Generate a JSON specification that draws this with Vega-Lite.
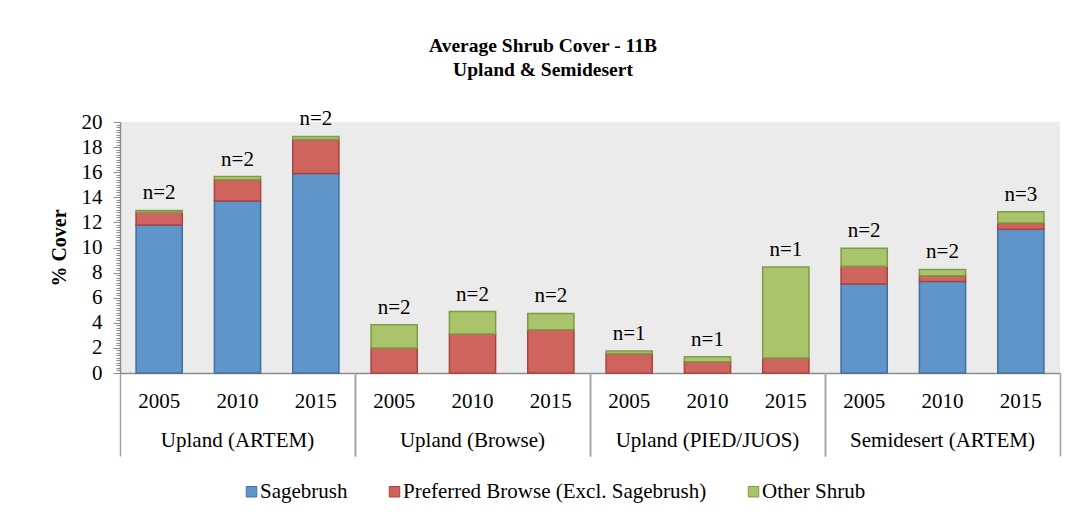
{
  "$schema": "https://vega.github.io/schema/vega-lite/v6.json",
  "autosize": {"type": "none"},
  "width": 940,
  "height": 251,
  "padding": {"left": 120, "top": 122, "right": 26, "bottom": 158},
  "background": "white",
  "title": {
    "text": ["Average Shrub Cover - 11B", "Upland & Semidesert"],
    "font": "Liberation Serif",
    "fontSize": 19.5,
    "fontWeight": "bold",
    "color": "black",
    "anchor": "middle",
    "frame": "group",
    "dx": -47,
    "offset": 28,
    "lineHeight": 24
  },
  "config": {
    "view": {"fill": "#ebebeb", "stroke": null},
    "axis": {
      "grid": false,
      "labelFont": "Liberation Serif",
      "titleFont": "Liberation Serif",
      "labelColor": "black",
      "titleColor": "black",
      "domainColor": "#8c8c8c",
      "tickColor": "#8c8c8c",
      "labelLimit": 400
    },
    "legend": {
      "labelFont": "Liberation Serif",
      "labelFontSize": 21,
      "labelColor": "black",
      "labelLimit": 500,
      "symbolType": "square",
      "symbolSize": 110,
      "symbolStrokeWidth": 1,
      "labelOffset": -2,
      "columnPadding": 36
    }
  },
  "datasets": {
    "cover": [
      {"bar": "Upland (ARTEM)|2005", "group": "Upland (ARTEM)", "shrub": "Sagebrush", "cover": 11.8, "n": 2},
      {"bar": "Upland (ARTEM)|2005", "group": "Upland (ARTEM)", "shrub": "Preferred Browse (Excl. Sagebrush)", "cover": 1.0, "n": 2},
      {"bar": "Upland (ARTEM)|2005", "group": "Upland (ARTEM)", "shrub": "Other Shrub", "cover": 0.15, "n": 2},
      {"bar": "Upland (ARTEM)|2010", "group": "Upland (ARTEM)", "shrub": "Sagebrush", "cover": 13.7, "n": 2},
      {"bar": "Upland (ARTEM)|2010", "group": "Upland (ARTEM)", "shrub": "Preferred Browse (Excl. Sagebrush)", "cover": 1.7, "n": 2},
      {"bar": "Upland (ARTEM)|2010", "group": "Upland (ARTEM)", "shrub": "Other Shrub", "cover": 0.25, "n": 2},
      {"bar": "Upland (ARTEM)|2015", "group": "Upland (ARTEM)", "shrub": "Sagebrush", "cover": 15.9, "n": 2},
      {"bar": "Upland (ARTEM)|2015", "group": "Upland (ARTEM)", "shrub": "Preferred Browse (Excl. Sagebrush)", "cover": 2.7, "n": 2},
      {"bar": "Upland (ARTEM)|2015", "group": "Upland (ARTEM)", "shrub": "Other Shrub", "cover": 0.25, "n": 2},
      {"bar": "Upland (Browse)|2005", "group": "Upland (Browse)", "shrub": "Preferred Browse (Excl. Sagebrush)", "cover": 2.0, "n": 2},
      {"bar": "Upland (Browse)|2005", "group": "Upland (Browse)", "shrub": "Other Shrub", "cover": 1.85, "n": 2},
      {"bar": "Upland (Browse)|2010", "group": "Upland (Browse)", "shrub": "Preferred Browse (Excl. Sagebrush)", "cover": 3.1, "n": 2},
      {"bar": "Upland (Browse)|2010", "group": "Upland (Browse)", "shrub": "Other Shrub", "cover": 1.8, "n": 2},
      {"bar": "Upland (Browse)|2015", "group": "Upland (Browse)", "shrub": "Preferred Browse (Excl. Sagebrush)", "cover": 3.45, "n": 2},
      {"bar": "Upland (Browse)|2015", "group": "Upland (Browse)", "shrub": "Other Shrub", "cover": 1.3, "n": 2},
      {"bar": "Upland (PIED/JUOS)|2005", "group": "Upland (PIED/JUOS)", "shrub": "Preferred Browse (Excl. Sagebrush)", "cover": 1.55, "n": 1},
      {"bar": "Upland (PIED/JUOS)|2005", "group": "Upland (PIED/JUOS)", "shrub": "Other Shrub", "cover": 0.2, "n": 1},
      {"bar": "Upland (PIED/JUOS)|2010", "group": "Upland (PIED/JUOS)", "shrub": "Preferred Browse (Excl. Sagebrush)", "cover": 0.9, "n": 1},
      {"bar": "Upland (PIED/JUOS)|2010", "group": "Upland (PIED/JUOS)", "shrub": "Other Shrub", "cover": 0.4, "n": 1},
      {"bar": "Upland (PIED/JUOS)|2015", "group": "Upland (PIED/JUOS)", "shrub": "Preferred Browse (Excl. Sagebrush)", "cover": 1.2, "n": 1},
      {"bar": "Upland (PIED/JUOS)|2015", "group": "Upland (PIED/JUOS)", "shrub": "Other Shrub", "cover": 7.25, "n": 1},
      {"bar": "Semidesert (ARTEM)|2005", "group": "Semidesert (ARTEM)", "shrub": "Sagebrush", "cover": 7.1, "n": 2},
      {"bar": "Semidesert (ARTEM)|2005", "group": "Semidesert (ARTEM)", "shrub": "Preferred Browse (Excl. Sagebrush)", "cover": 1.4, "n": 2},
      {"bar": "Semidesert (ARTEM)|2005", "group": "Semidesert (ARTEM)", "shrub": "Other Shrub", "cover": 1.45, "n": 2},
      {"bar": "Semidesert (ARTEM)|2010", "group": "Semidesert (ARTEM)", "shrub": "Sagebrush", "cover": 7.3, "n": 2},
      {"bar": "Semidesert (ARTEM)|2010", "group": "Semidesert (ARTEM)", "shrub": "Preferred Browse (Excl. Sagebrush)", "cover": 0.45, "n": 2},
      {"bar": "Semidesert (ARTEM)|2010", "group": "Semidesert (ARTEM)", "shrub": "Other Shrub", "cover": 0.5, "n": 2},
      {"bar": "Semidesert (ARTEM)|2015", "group": "Semidesert (ARTEM)", "shrub": "Sagebrush", "cover": 11.45, "n": 3},
      {"bar": "Semidesert (ARTEM)|2015", "group": "Semidesert (ARTEM)", "shrub": "Preferred Browse (Excl. Sagebrush)", "cover": 0.5, "n": 3},
      {"bar": "Semidesert (ARTEM)|2015", "group": "Semidesert (ARTEM)", "shrub": "Other Shrub", "cover": 0.9, "n": 3}
    ]
  },
  "data": {"name": "cover"},
  "layer": [
    {
      "layer": [
        {
          "mark": {"type": "bar", "strokeWidth": 1.5},
          "transform": [
            {"calculate": "indexof(['Sagebrush','Preferred Browse (Excl. Sagebrush)','Other Shrub'], datum.shrub)", "as": "rank"}
          ],
          "encoding": {
            "x": {
              "field": "bar", "type": "nominal", "sort": null,
              "scale": {"paddingInner": 0.41, "paddingOuter": 0.205},
              "axis": {
                "orient": "bottom", "title": null,
                "labelExpr": "split(datum.label, '|')[1]",
                "labelAngle": 0, "ticks": false, "tickSize": 0,
                "labelFontSize": 21, "labelPadding": 17,
                "domainWidth": 1.5
              }
            },
            "y": {
              "field": "cover", "type": "quantitative", "stack": "zero",
              "scale": {"domain": [0, 20], "nice": false},
              "axis": {
                "title": "% Cover", "titleFontSize": 20, "titleFontWeight": "bold",
                "values": [0, 2, 4, 6, 8, 10, 12, 14, 16, 18, 20],
                "tickSize": 7, "labelFontSize": 21, "labelPadding": 11,
                "titlePadding": 12, "domainWidth": 1.5
              }
            },
            "color": {
              "field": "shrub", "type": "nominal",
              "scale": {
                "domain": ["Sagebrush", "Preferred Browse (Excl. Sagebrush)", "Other Shrub"],
                "range": ["#5f95c8", "#cf645e", "#aac46c"]
              },
              "legend": {"orient": "none", "direction": "horizontal", "legendX": 121, "legendY": 359, "title": null}
            },
            "stroke": {
              "field": "shrub", "type": "nominal",
              "scale": {
                "domain": ["Sagebrush", "Preferred Browse (Excl. Sagebrush)", "Other Shrub"],
                "range": ["#41709f", "#a84441", "#7e9b47"]
              },
              "legend": {"orient": "none", "direction": "horizontal", "legendX": 121, "legendY": 359, "title": null}
            },
            "order": {"field": "rank", "type": "quantitative"}
          }
        },
        {
          "transform": [
            {"aggregate": [{"op": "sum", "field": "cover", "as": "total"}], "groupby": ["bar", "n"]},
            {"calculate": "'n=' + datum.n", "as": "label"}
          ],
          "mark": {"type": "text", "font": "Liberation Serif", "fontSize": 21, "color": "black", "baseline": "middle", "dy": -17},
          "encoding": {
            "x": {"field": "bar", "type": "nominal", "sort": null},
            "y": {
              "field": "total", "type": "quantitative",
              "axis": {
                "orient": "left", "title": null, "labels": false, "domain": false,
                "tickCount": 100, "tickSize": 4, "tickColor": "#8c8c8c"
              }
            },
            "text": {"field": "label"}
          }
        }
      ],
      "resolve": {"axis": {"y": "independent"}}
    },
    {
      "mark": {"type": "rule", "opacity": 0},
      "encoding": {
        "x": {
          "field": "group", "type": "nominal", "sort": null,
          "scale": {"paddingInner": 0, "paddingOuter": 0},
          "axis": {
            "orient": "bottom", "title": null, "domain": false, "ticks": false, "tickSize": 0,
            "labelAngle": 0, "labelFontSize": 21, "labelPadding": 56, "labelLimit": 400
          }
        }
      }
    },
    {
      "mark": {"type": "rule", "opacity": 0},
      "encoding": {
        "x": {
          "field": "group", "type": "nominal", "sort": null,
          "scale": {"paddingInner": 0, "paddingOuter": 0},
          "axis": {
            "orient": "bottom", "title": null, "domain": false, "labels": false,
            "ticks": true, "bandPosition": 0, "tickSize": 83, "tickWidth": 1.5, "tickColor": "#a0a0a0"
          }
        }
      }
    },
    {
      "mark": {"type": "rule", "opacity": 0},
      "encoding": {
        "x": {
          "field": "group", "type": "nominal", "sort": null,
          "scale": {"paddingInner": 0, "paddingOuter": 0},
          "axis": {
            "orient": "bottom", "title": null, "domain": false, "labels": false,
            "ticks": true, "bandPosition": 1, "tickSize": 83, "tickWidth": 1.5, "tickColor": "#a0a0a0"
          }
        }
      }
    }
  ],
  "resolve": {"scale": {"x": "independent"}}
}
